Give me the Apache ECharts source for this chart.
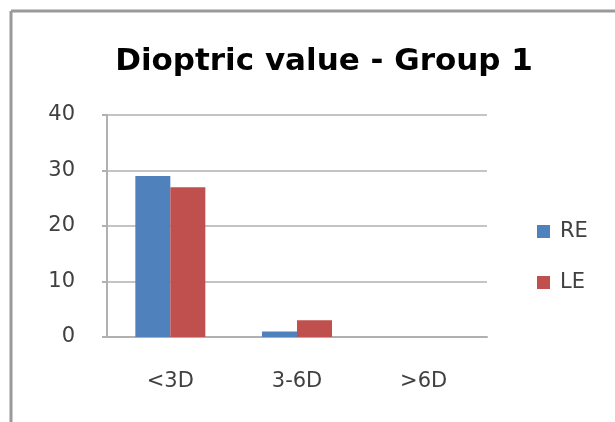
<!DOCTYPE html>
<html>
<head>
<meta charset="utf-8">
<script src="https://cdn.jsdelivr.net/npm/echarts@6/dist/echarts.min.js"></script>
<style>
  html, body { margin: 0; padding: 0; background: #fff; }
  #chart { width: 615px; height: 422px; }
</style>
</head>
<body>
<div id="chart"></div>
<script>
// Refraction categories and eye counts per group
const categories = ['<3D', '3-6D', '>6D'];
const seriesNames = ['RE', 'LE'];
const reValues = [29, 1, 0];
const leValues = [27, 3, 0];
const yTicks = [0, 10, 20, 30, 40];

const FONT = '"DejaVu Sans", sans-serif';
const chart = echarts.init(document.getElementById('chart'), null, { renderer: 'canvas' });

chart.setOption({
  animation: false,
  backgroundColor: '#ffffff',
  title: {
    text: 'Dioptric value - Group 1',
    left: 319,
    textAlign: 'center',
    top: 41,
    textStyle: { fontFamily: FONT, fontWeight: 'bold', fontSize: 31, color: '#000000' }
  },
  legend: {
    orient: 'vertical',
    left: 537,
    top: 221,
    padding: 0,
    itemWidth: 13,
    itemHeight: 13,
    itemGap: 30,
    icon: 'rect',
    data: seriesNames,
    textStyle: { fontFamily: FONT, fontSize: 21, color: '#404040', padding: [0, 0, 0, 5] }
  },
  grid: { left: 107, right: 128, top: 115, bottom: 85, containLabel: false },
  xAxis: {
    type: 'category',
    data: categories,
    axisLine: { lineStyle: { color: '#b0b0b0', width: 2 } },
    axisTick: { show: false },
    axisLabel: { fontFamily: FONT, fontSize: 21, color: '#404040', margin: 34 }
  },
  yAxis: {
    type: 'value',
    min: yTicks[0],
    max: yTicks[yTicks.length - 1],
    interval: 10,
    axisLine: { show: true, lineStyle: { color: '#b0b0b0', width: 2 } },
    axisTick: { show: true, length: 5, lineStyle: { color: '#b0b0b0', width: 2 } },
    splitLine: { lineStyle: { color: '#c4c4c4', width: 2 } },
    axisLabel: { fontFamily: FONT, fontSize: 21, color: '#404040', margin: 32 }
  },
  series: [
    {
      name: seriesNames[0],
      type: 'bar',
      data: reValues,
      barWidth: 35,
      barGap: '0%',
      itemStyle: { color: '#4F81BD' }
    },
    {
      name: seriesNames[1],
      type: 'bar',
      data: leValues,
      barWidth: 35,
      barGap: '0%',
      itemStyle: { color: '#C0504D' }
    }
  ],
  graphic: [
    // outer chart frame running off the right and bottom edges
    { type: 'line', shape: { x1: 11, y1: 11, x2: 615, y2: 11 }, style: { stroke: '#9a9a9a', lineWidth: 3 } },
    { type: 'line', shape: { x1: 11, y1: 11, x2: 11, y2: 422 }, style: { stroke: '#9a9a9a', lineWidth: 3 } }
  ]
});
</script>
</body>
</html>
